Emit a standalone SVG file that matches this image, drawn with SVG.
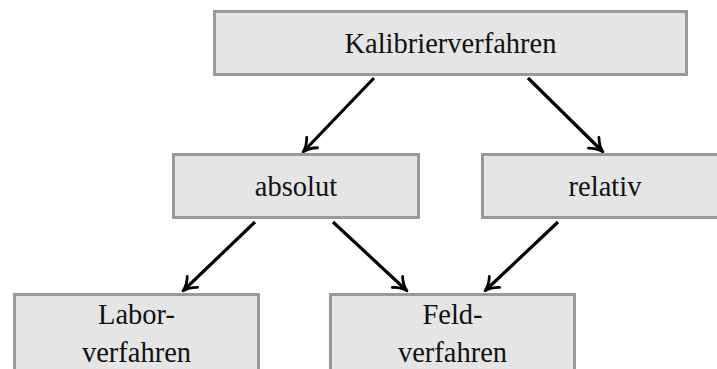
<svg xmlns="http://www.w3.org/2000/svg" width="717" height="369" viewBox="0 0 717 369">
<style>
.box{fill:#e5e5e5;stroke:#999999;stroke-width:3}
.lbl{font-family:"Liberation Serif","DejaVu Serif",serif;font-size:28.5px;fill:#111;text-anchor:middle}
.edge{stroke:#000;stroke-width:3.2;fill:none;marker-end:url(#ah)}
</style>
<defs>
<marker id="ah" markerUnits="userSpaceOnUse" markerWidth="30" markerHeight="30" viewBox="-15 -15 30 30" refX="0" refY="0" orient="auto" overflow="visible">
<path d="M-11,-7.5 C-7,-3.5 -2,-0.9 2,0 C-2,0.9 -7,3.5 -11,7.5" fill="none" stroke="#000" stroke-width="2.8" stroke-linecap="round" stroke-linejoin="round"/>
</marker>
</defs>
<g id="connectors">
<line class="edge" x1="374" y1="78" x2="304.5" y2="150.5"/>
<line class="edge" x1="528" y1="78" x2="601.5" y2="150.5"/>
<line class="edge" x1="255" y1="222" x2="184.5" y2="289.5"/>
<line class="edge" x1="333" y1="222" x2="405.5" y2="289.5"/>
<line class="edge" x1="558" y1="222" x2="486.5" y2="289.5"/>
</g>
<g id="kalibrierverfahren">
<rect class="box" x="214.5" y="11.5" width="472" height="63"/>
<text class="lbl" x="450.5" y="53">Kalibrierverfahren</text>
</g>
<g id="absolut">
<rect class="box" x="173.5" y="154.5" width="245" height="63"/>
<text class="lbl" x="296" y="196">absolut</text>
</g>
<g id="relativ">
<rect class="box" x="482.5" y="154.5" width="245" height="63"/>
<text class="lbl" x="605" y="196">relativ</text>
</g>
<g id="laborverfahren">
<rect class="box" x="14.5" y="294.5" width="244" height="100"/>
<text class="lbl" x="136.5" y="324">Labor-</text>
<text class="lbl" x="136.5" y="362">verfahren</text>
</g>
<g id="feldverfahren">
<rect class="box" x="330.5" y="294.5" width="244" height="100"/>
<text class="lbl" x="452.5" y="324">Feld-</text>
<text class="lbl" x="452.5" y="362">verfahren</text>
</g>
</svg>
